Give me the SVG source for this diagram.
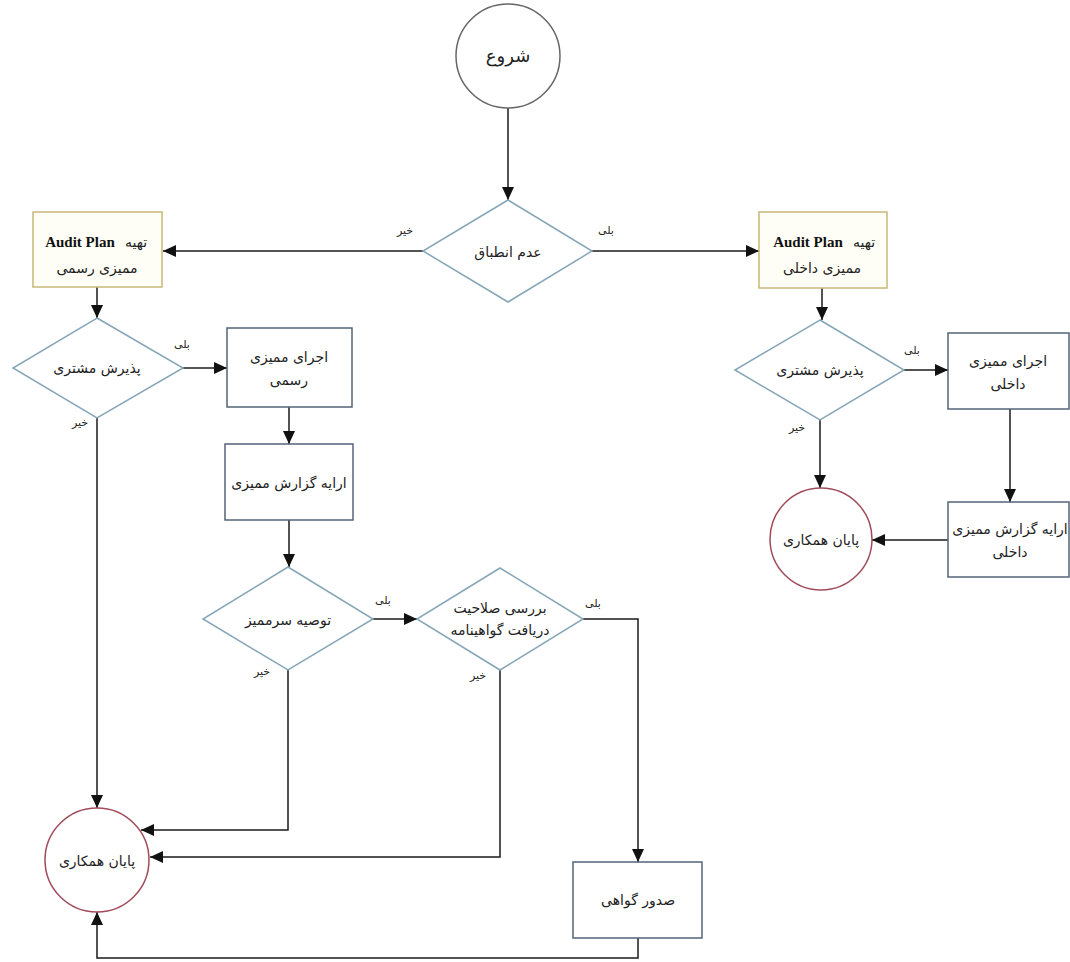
<svg xmlns="http://www.w3.org/2000/svg" width="1070" height="962" viewBox="0 0 1070 962">
<style>
.fa{font-family:"DejaVu Sans","Noto Sans",sans-serif;font-size:14px;fill:#222;text-anchor:middle}
.lbl{font-family:"DejaVu Sans","Noto Sans",sans-serif;font-size:11px;fill:#222;text-anchor:middle}
.en{font-family:"Liberation Serif",serif;font-weight:bold;font-size:15px;fill:#111}
.box{fill:#ffffff;stroke:#566478;stroke-width:1.5}
.ybox{fill:#fffef6;stroke:#c8b878;stroke-width:1.5}
.dia{fill:#ffffff;stroke:#86a6b8;stroke-width:1.5}
.start{fill:#ffffff;stroke:#666;stroke-width:1.5}
.end{fill:#ffffff;stroke:#a04b5a;stroke-width:1.5}
.c{fill:none;stroke:#1a1a1a;stroke-width:1.5}
</style>
<defs>
<marker id="ah" viewBox="0 0 13 12" refX="13" refY="6" markerWidth="13" markerHeight="12" markerUnits="userSpaceOnUse" orient="auto">
<path d="M0,0 L13,6 L0,12 Z" fill="#111"/>
</marker>
</defs>
<rect width="1070" height="962" fill="#ffffff"/>

<g id="connectors">
<path class="c" d="M508,108 V200" marker-end="url(#ah)"/>
<path class="c" d="M423,251 H163" marker-end="url(#ah)"/>
<path class="c" d="M592,251 H759" marker-end="url(#ah)"/>
<path class="c" d="M97,287 V318" marker-end="url(#ah)"/>
<path class="c" d="M183,368 H227" marker-end="url(#ah)"/>
<path class="c" d="M289,407 V444" marker-end="url(#ah)"/>
<path class="c" d="M289,520 V567" marker-end="url(#ah)"/>
<path class="c" d="M373,619 H417" marker-end="url(#ah)"/>
<path class="c" d="M583,619 H638 V862" marker-end="url(#ah)"/>
<path class="c" d="M97,418 V808" marker-end="url(#ah)"/>
<path class="c" d="M288,670 V830 H141" marker-end="url(#ah)"/>
<path class="c" d="M500,670 V857 H150" marker-end="url(#ah)"/>
<path class="c" d="M638,938 V958 H97 V912" marker-end="url(#ah)"/>
<path class="c" d="M822,288 V320" marker-end="url(#ah)"/>
<path class="c" d="M904,370 H948" marker-end="url(#ah)"/>
<path class="c" d="M1010,409 V502" marker-end="url(#ah)"/>
<path class="c" d="M820,420 V488" marker-end="url(#ah)"/>
<path class="c" d="M948,540 H872" marker-end="url(#ah)"/>
<text class="lbl" x="405" y="234">خیر</text>
<text class="lbl" x="606" y="234">بلی</text>
<text class="lbl" x="182" y="348">بلی</text>
<text class="lbl" x="80" y="426">خیر</text>
<text class="lbl" x="383" y="604">بلی</text>
<text class="lbl" x="262" y="675">خیر</text>
<text class="lbl" x="593" y="607">بلی</text>
<text class="lbl" x="478" y="679">خیر</text>
<text class="lbl" x="912" y="354">بلی</text>
<text class="lbl" x="797" y="431">خیر</text>
</g>

<g id="start">
<circle class="start" cx="508" cy="56" r="52"/>
<text class="fa" x="508" y="62" style="font-size:18px">شروع</text>
</g>

<g id="d-main">
<polygon class="dia" points="508,200 592,251 508,302 423,251"/>
<text class="fa" x="508" y="257">عدم انطباق</text>
</g>

<g id="plan-formal">
<rect class="ybox" x="33" y="212" width="129" height="75"/>
<text class="en" x="80" y="247" text-anchor="middle">Audit Plan</text>
<text class="fa" x="136" y="247">تهیه</text>
<text class="fa" x="97" y="273">ممیزی رسمی</text>
</g>

<g id="plan-internal">
<rect class="ybox" x="759" y="212" width="128" height="76"/>
<text class="en" x="808" y="247" text-anchor="middle">Audit Plan</text>
<text class="fa" x="864" y="247">تهیه</text>
<text class="fa" x="822" y="273">ممیزی داخلی</text>
</g>

<g id="d-accept-formal">
<polygon class="dia" points="97,318 183,368 97,418 13,368"/>
<text class="fa" x="97" y="373">پذیرش مشتری</text>
</g>

<g id="exec-formal">
<rect class="box" x="227" y="328" width="125" height="79"/>
<text class="fa" x="289" y="362">اجرای ممیزی</text>
<text class="fa" x="289" y="385">رسمی</text>
</g>

<g id="report-formal">
<rect class="box" x="225" y="444" width="128" height="76"/>
<text class="fa" x="289" y="488">ارایه گزارش ممیزی</text>
</g>

<g id="d-recommend">
<polygon class="dia" points="288,567 373,619 288,670 203,619"/>
<text class="fa" x="288" y="625">توصیه سرممیز</text>
</g>

<g id="d-check">
<polygon class="dia" points="500,568 583,619 500,670 417,619"/>
<text class="fa" x="500" y="613">بررسی صلاحیت</text>
<text class="fa" x="500" y="635">دریافت گواهینامه</text>
</g>

<g id="certificate">
<rect class="box" x="573" y="862" width="129" height="76"/>
<text class="fa" x="638" y="905">صدور گواهی</text>
</g>

<g id="end-formal">
<circle class="end" cx="97" cy="860" r="52"/>
<text class="fa" x="97" y="866">پایان همکاری</text>
</g>

<g id="d-accept-internal">
<polygon class="dia" points="820,320 904,370 820,420 735,370"/>
<text class="fa" x="820" y="375">پذیرش مشتری</text>
</g>

<g id="exec-internal">
<rect class="box" x="948" y="333" width="121" height="76"/>
<text class="fa" x="1008" y="366">اجرای ممیزی</text>
<text class="fa" x="1008" y="389">داخلی</text>
</g>

<g id="report-internal">
<rect class="box" x="948" y="502" width="121" height="75"/>
<text class="fa" x="1010" y="534">ارایه گزارش ممیزی</text>
<text class="fa" x="1010" y="557">داخلی</text>
</g>

<g id="end-internal">
<circle class="end" cx="821" cy="539" r="51"/>
<text class="fa" x="821" y="545">پایان همکاری</text>
</g>
</svg>
